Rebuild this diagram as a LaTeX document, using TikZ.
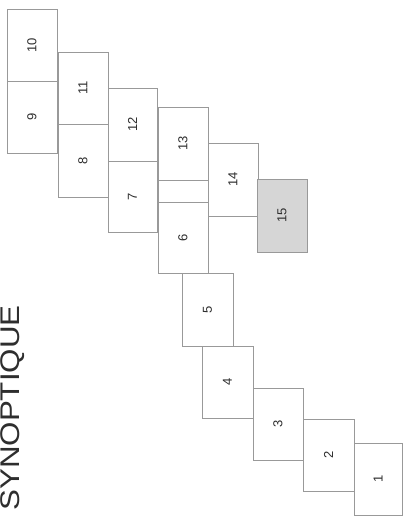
\documentclass[tikz,border=0pt]{standalone}
\usepackage{fontspec}
\setmainfont{Liberation Sans}
\usetikzlibrary{fit}
\definecolor{linegray}{gray}{0.6}
\definecolor{fillgray}{gray}{0.84}
\definecolor{inkgray}{gray}{0.18}
\tikzset{
  sheetbox/.style={draw=linegray, line width=0.9pt, inner sep=0pt, rectangle},
  greybox/.style={sheetbox, fill=fillgray},
  num/.style={rotate=90, font=\fontsize{13}{13}\selectfont, text=inkgray, inner sep=0pt},
  titletext/.style={rotate=90, font=\fontsize{27}{27}\selectfont, text=inkgray, inner sep=0pt, xscale=1.16}
}
\newcommand{\sheet}[6][sheetbox]{%
  \node (s#6) [#1, fit={(#2,#3) (#4,#5)}] {};
  \node (t#6) [num] at (s#6.center) {#6};
}
\begin{document}
\begin{tikzpicture}[x=1pt,y=-1pt]
\useasboundingbox (0,0) rectangle (403,517);
\fill[white] (0,0) rectangle (403,517);
\sheet{7}{9}{57}{81}{10}
\sheet{7}{81}{57}{153}{9}
\sheet{58}{52}{108}{124}{11}
\sheet{58}{124}{108}{197}{8}
\sheet{108}{88}{157}{161}{12}
\sheet{108}{161}{157}{232}{7}
\sheet{158}{107}{208}{180}{13}
\node (strip) [sheetbox, fit={(158,180) (208,202)}] {};
\sheet{158}{202}{208}{273}{6}
\sheet{208}{143}{258}{216}{14}
\sheet[greybox]{257}{179}{307}{252}{15}
\sheet{182}{273}{233}{346}{5}
\sheet{202}{346}{253}{418}{4}
\sheet{253}{388}{303}{460}{3}
\sheet{303}{419}{354}{491}{2}
\sheet{354}{443}{402.5}{515}{1}
\node (title) [titletext] at (13,408) {SYNOPTIQUE};
\end{tikzpicture}
\end{document}
